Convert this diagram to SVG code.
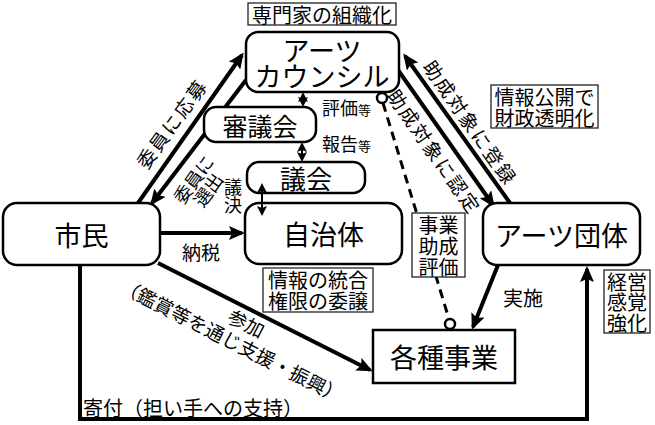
<svg xmlns="http://www.w3.org/2000/svg" width="655" height="425" viewBox="0 0 655 425">
<defs>
<style>
.t{font-family:"Noto Sans CJK JP","Noto Sans",sans-serif;fill:#000}
.c{text-anchor:middle;dominant-baseline:central}
.node{fill:#fff;stroke:#000;stroke-width:2.5}
.nf{fill:none;stroke:#000;stroke-width:2.5}
.lb{fill:#fff;stroke:#222;stroke-width:1.3}
.e{fill:none;stroke:#000;stroke-width:4}
.s{fill:none;stroke:#000;stroke-width:2}
.f27{font-size:27px}
.f20{font-size:20px}
.f19{font-size:19px}
.f18{font-size:18px}
.ls{letter-spacing:2px}
</style>
<marker id="ah" viewBox="0 0 16 14" refX="13" refY="7" markerWidth="16" markerHeight="14" orient="auto" markerUnits="userSpaceOnUse"><path d="M0,0 L16,7 L0,14 L3,7 z" fill="#000"/></marker>
<marker id="sa" viewBox="0 0 10 10" refX="8" refY="5" markerWidth="10" markerHeight="10" orient="auto-start-reverse" markerUnits="userSpaceOnUse"><path d="M0,0 L10,5 L0,10 L2,5 z" fill="#000"/></marker>
</defs>
<rect width="655" height="425" fill="#fff"/>

<g id="connectors">
<line class="e" x1="138" y1="203" x2="242" y2="55" marker-end="url(#ah)"/>
<line class="e" x1="246" y1="80" x2="152" y2="203" marker-end="url(#ah)"/>
<line class="e" x1="510" y1="203" x2="405" y2="56" marker-end="url(#ah)"/>
<line class="e" x1="398" y1="70" x2="493" y2="205" marker-end="url(#ah)"/>
<line class="e" x1="160" y1="233" x2="242" y2="233" marker-end="url(#ah)"/>
<line class="e" x1="158" y1="263" x2="370" y2="370" marker-end="url(#ah)"/>
<path class="e" d="M80,265 V419 H587 V269" marker-end="url(#ah)"/>
<line class="e" x1="498" y1="265" x2="473" y2="327" marker-end="url(#ah)"/>
<line x1="383" y1="103" x2="449" y2="319" stroke="#000" stroke-width="3" stroke-dasharray="9 6"/>
<circle cx="382" cy="98" r="5" fill="#fff" stroke="#000" stroke-width="2.5"/>
<circle cx="450" cy="324" r="5" fill="#fff" stroke="#000" stroke-width="2.5"/>
<line class="s" x1="303" y1="94" x2="303" y2="105" marker-start="url(#sa)" marker-end="url(#sa)"/>
<line class="s" x1="302" y1="144" x2="302" y2="160" marker-start="url(#sa)" marker-end="url(#sa)"/>
<line class="s" x1="262" y1="185" x2="262" y2="214" marker-start="url(#sa)" marker-end="url(#sa)"/>
</g>

<g id="n-artscouncil">
<rect class="node" x="246" y="32" width="153" height="60" rx="12"/>
<text class="t c f27"><tspan x="322" y="48.5">アーツ</tspan><tspan x="322" y="75">カウンシル</tspan></text>
</g>
<g id="n-shingikai">
<rect class="node" x="204" y="107" width="112" height="35" rx="12"/>
<text class="t c" style="font-size:25px" x="260" y="124.5">審議会</text>
</g>
<g id="n-gikai">
<rect class="nf" x="247" y="162" width="118" height="31" rx="12"/>
<text class="t c" style="font-size:26px" x="306" y="177.5">議会</text>
</g>
<g id="n-jichitai">
<rect class="nf" x="245" y="203" width="157" height="61" rx="14"/>
<text class="t c f27" x="323.5" y="233.5">自治体</text>
</g>
<g id="n-shimin">
<rect class="node" x="3" y="203" width="157" height="62" rx="14"/>
<text class="t c f27" x="81.5" y="234">市民</text>
</g>
<g id="n-artsdantai">
<rect class="node" x="483" y="203" width="157" height="62" rx="14"/>
<text class="t c f27" x="561.5" y="234">アーツ団体</text>
</g>
<g id="n-jigyo">
<rect class="node" x="373" y="330" width="142" height="53"/>
<text class="t c f27" x="444" y="356.5">各種事業</text>
</g>

<g id="notes">
<rect class="lb" x="248" y="3" width="148" height="22"/>
<text class="t c f20" x="322" y="14">専門家の組織化</text>
<rect class="lb" x="491" y="85" width="107" height="43"/>
<text class="t c f20"><tspan x="544.5" y="96">情報公開で</tspan><tspan x="544.5" y="117">財政透明化</tspan></text>
<rect class="lb" x="263" y="268" width="110" height="44"/>
<text class="t c f20"><tspan x="318" y="279">情報の統合</tspan><tspan x="318" y="300">権限の委譲</tspan></text>
<rect class="lb" x="412" y="213" width="53" height="64"/>
<text class="t c f20"><tspan x="438.5" y="224">事業</tspan><tspan x="438.5" y="245">助成</tspan><tspan x="438.5" y="266">評価</tspan></text>
<rect class="lb" x="604" y="270" width="46" height="63"/>
<text class="t c f20"><tspan x="627" y="280.5">経営</tspan><tspan x="627" y="301">感覚</tspan><tspan x="627" y="321.5">強化</tspan></text>
</g>

<g id="edge-labels">
<text class="t c f19 ls" transform="translate(171,123) rotate(-54)">委員に応募</text>
<text class="t c f18" transform="translate(200,184) rotate(-54)"><tspan x="0" y="-9">委員に</tspan><tspan x="0" y="9">選出</tspan></text>
<text class="t c f19 ls" transform="translate(471,122) rotate(55)">助成対象に登録</text>
<text class="t c f19 ls" transform="translate(435,151) rotate(55)">助成対象に認定</text>
<text class="t f18" x="322" y="115">評価<tspan style="font-size:13px">等</tspan></text>
<text class="t f18" x="322" y="151">報告<tspan style="font-size:13px">等</tspan></text>
<text class="t c f18"><tspan x="233" y="186">議</tspan><tspan x="233" y="204">決</tspan></text>
<text class="t c f19" x="201" y="251">納税</text>
<text class="t c f20" x="523" y="297">実施</text>
<text class="t f20" x="83" y="407.5" style="dominant-baseline:central">寄付（担い手への支持）</text>
<text class="t c f19" transform="translate(247,322) rotate(27)"><tspan x="0" y="0">参加</tspan><tspan x="-5" y="22">（鑑賞等を通じ支援・振興）</tspan></text>
</g>
</svg>
